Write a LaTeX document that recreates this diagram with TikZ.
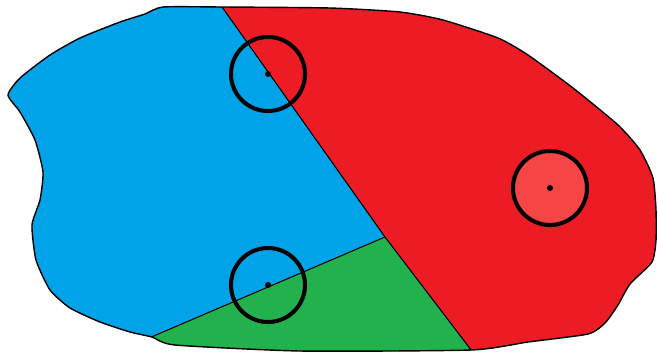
\documentclass[tikz,border=0pt]{standalone}
\usetikzlibrary{calc}
\definecolor{pblue}{HTML}{00A2E8}
\definecolor{pred}{HTML}{ED1C24}
\definecolor{pgreen}{HTML}{22B14C}
\definecolor{plight}{HTML}{F54545}
\tikzset{
  ring/.style={draw=black, line width=2.3pt},
  border/.style={draw=black, line width=0.8pt},
  divider/.style={draw=black, line width=0.6pt},
  centredot/.style={fill=black}
}
\begin{document}
\begin{tikzpicture}[x=0.02cm,y=-0.02cm]
\useasboundingbox (0,0) rectangle (658,352);
\def\outline{plot[smooth cycle, tension=0.35] coordinates {
 (163,7) (222,7) (330,8) (400,12) (443,20) (498,38) (528,55) (573,88) (618,125) (640,150) (653,178) (656,210) (656,240) (652,262) (630,284) (618,305) (605,323) (588,334) (528,342) (471,350) (300,351) (175,345) (152,337) (130,332) (100,322) (70,308) (50,290) (36,260) (32,225) (40,200) (43,172) (35,140) (20,112) (8,95) (20,78) (50,55) (80,38) (120,22) (145,14)}}
\coordinate (top) at (222,7);
\coordinate (junction) at (385,237);
\coordinate (leftend) at (152,337);
\coordinate (bottomend) at (471,350);
\coordinate (c1) at (268,74);
\coordinate (c2) at (268,285);
\coordinate (c3) at (550,188);
\fill[pred] \outline;
\begin{scope}
  \clip \outline;
  \fill[pblue] (210,-10) -- (junction) -- (-10,406) -- (-10,-10) -- cycle;
  \fill[pgreen] (junction) -- (494,380) -- (-10,420) -- (-10,406) -- cycle;
  \draw[divider] (210,-10) -- (junction) -- (494,380);
  \draw[divider] (junction) -- (-10,406);
\end{scope}
\draw[border] \outline;
\fill[plight] (c3) circle (38);
\draw[ring] (c1) circle (37);
\draw[ring] (c2) circle (37);
\draw[ring] (c3) circle (37);
\fill[centredot] (c1) circle (3);
\fill[centredot] (c2) circle (3);
\fill[centredot] (c3) circle (3);
\end{tikzpicture}
\end{document}
